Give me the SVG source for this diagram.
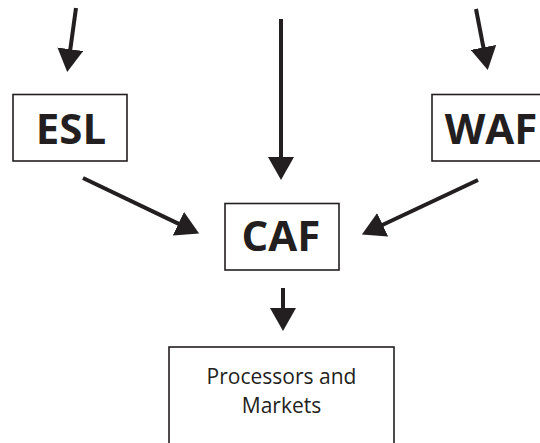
<svg xmlns="http://www.w3.org/2000/svg" width="540" height="443" viewBox="0 0 540 443">
  <style>
    .box { fill: #ffffff; stroke: #231f20; stroke-width: 1.6; }
    .big { font-family: "Open Sans", "Liberation Sans", sans-serif; font-weight: bold; font-size: 42px; fill: #231f20; text-anchor: middle; }
    .small { font-family: "Open Sans", "Liberation Sans", sans-serif; font-size: 21px; fill: #231f20; text-anchor: middle; }
    .arrow { stroke: #231f20; stroke-width: 4; fill: none; marker-end: url(#head); }
  </style>
  <defs>
    <marker id="head" markerUnits="userSpaceOnUse" viewBox="0 0 23 26" markerWidth="23" markerHeight="26" refX="1" refY="13" orient="auto">
      <path d="M0,0 L23,13 L0,26 Z" fill="#231f20"/>
    </marker>
  </defs>
  <rect width="540" height="443" fill="#ffffff"/>

  <g id="connectors">
    <line class="arrow" x1="76" y1="8" x2="70.2" y2="50.2"/>
    <line class="arrow" x1="281" y1="19" x2="281" y2="158"/>
    <line class="arrow" x1="476" y1="9" x2="483.6" y2="48.4"/>
    <line class="arrow" x1="83" y1="178" x2="179.3" y2="224.1"/>
    <line class="arrow" x1="478" y1="180" x2="381.8" y2="225.2"/>
    <line class="arrow" x1="283" y1="288" x2="283" y2="309"/>
  </g>

  <g id="esl">
    <rect class="box" x="13" y="94.5" width="114" height="66.5"/>
    <text class="big" x="71" y="144">ESL</text>
  </g>

  <g id="waf">
    <rect class="box" x="432" y="94.5" width="120" height="66.5"/>
    <text class="big" x="491" y="144">WAF</text>
  </g>

  <g id="caf">
    <rect class="box" x="225" y="203.5" width="114" height="66.5"/>
    <text class="big" x="281" y="251">CAF</text>
  </g>

  <g id="processors">
    <rect class="box" x="169" y="347" width="225" height="110"/>
    <text class="small" x="281.5" y="384">Processors and</text>
    <text class="small" x="281.5" y="413">Markets</text>
  </g>
</svg>
